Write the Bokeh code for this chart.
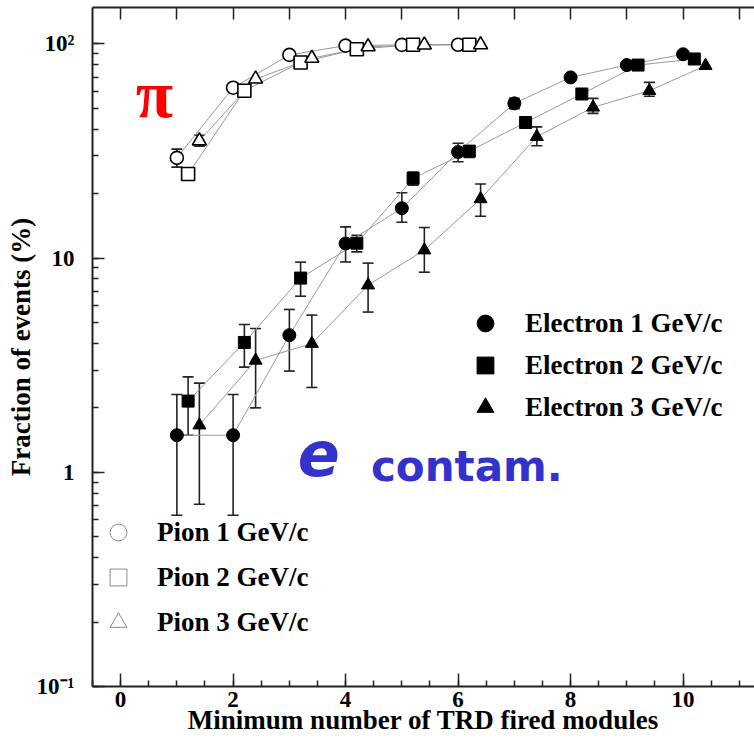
import numpy as np
from bokeh.plotting import figure
from bokeh.models import (ColumnDataSource, Whisker, TeeHead, LinearAxis, Legend,
                          LegendItem, Label, Range1d, SingleIntervalTicker)
from bokeh.embed import file_html
from bokeh.resources import INLINE

# ---------------- data ----------------
pion1_x = [1.0, 2.0, 3.0, 4.0, 5.0, 6.0]
pion1_y = [29.4, 62.5, 88.9, 98.2, 99.0, 99.2]
pion1_lo = [26.6, None, None, None, None, None]
pion1_hi = [32.3, None, None, None, None, None]

pion2_x = [1.2, 2.2, 3.2, 4.2, 5.2, 6.2]
pion2_y = [24.7, 60.5, 82.0, 94.5, 99.2, 99.2]

pion3_x = [1.4, 2.4, 3.4, 4.4, 5.4, 6.4]
pion3_y = [35.3, 68.6, 85.8, 97.1, 99.0, 99.2]
pion3_lo = [33.3, None, None, None, None, None]
pion3_hi = [37.5, None, None, None, None, None]

el1_x = [1.0, 2.0, 3.0, 4.0, 5.0, 6.0, 7.0, 8.0, 9.0, 10.0]
el1_y = [1.49, 1.49, 4.37, 11.7, 17.1, 31.3, 52.8, 69.8, 79.7, 89.5]
el1_lo = [0.63, 0.63, 2.97, 9.6, 14.7, 28.2, 49.9, None, None, None]
el1_hi = [2.31, 2.31, 5.76, 14.0, 20.2, 34.4, 55.7, None, None, None]

el2_x = [1.2, 2.2, 3.2, 4.2, 5.2, 6.2, 7.2, 8.2, 9.2, 10.2]
el2_y = [2.15, 4.04, 8.07, 11.75, 23.6, 31.6, 43.0, 58.4, 79.7, 85.1]
el2_lo = [1.49, 3.1, 6.64, 10.7, 21.9, 29.5, None, None, None, None]
el2_hi = [2.79, 4.9, 9.58, 12.8, 25.2, 33.5, None, None, None, None]

el3_x = [1.4, 2.4, 3.4, 4.4, 5.4, 6.4, 7.4, 8.4, 9.4, 10.4]
el3_y = [1.66, 3.33, 3.99, 7.48, 10.9, 18.9, 36.9, 50.6, 60.5, 79.2]
el3_lo = [0.71, 2.0, 2.49, 5.6, 8.6, 15.7, 33.5, 47.4, 57.0, None]
el3_hi = [2.61, 4.69, 5.42, 9.48, 13.9, 22.2, 41.0, 55.7, 66.2, None]

electron_labels = ["Electron 1 GeV/c", "Electron 2 GeV/c", "Electron 3 GeV/c"]
pion_labels = ["Pion 1 GeV/c", "Pion 2 GeV/c", "Pion 3 GeV/c"]
y_tick_labels = {0.1: "10\u207b\u00b9", 1: "1", 10: "10", 100: "10\u00b2"}

SERIF = "Liberation Serif"
LINE_GREY = "#9a9a9a"
INK = "#222222"

p = figure(width=754, height=744, x_range=Range1d(-0.5, 11.27),
           y_range=Range1d(0.1, 148), y_axis_type="log",
           output_backend="svg", toolbar_location=None,
           min_border_left=92, min_border_right=0, min_border_top=7,
           min_border_bottom=58, background_fill_color="white",
           border_fill_color="white")
p.outline_line_color = None
p.xgrid.visible = False
p.ygrid.visible = False

# ---- axes ----
xa = p.xaxis[0]
xa.ticker = SingleIntervalTicker(interval=2, num_minor_ticks=4)
xa.axis_label = "Minimum number of TRD fired modules"
xa.axis_label_text_font = SERIF
xa.axis_label_text_font_style = "bold"
xa.axis_label_text_font_size = "27px"
xa.axis_label_text_color = "black"
xa.axis_label_standoff = -5
xa.major_label_standoff = 5
xa.major_label_text_font = SERIF
xa.major_label_text_font_style = "bold"
xa.major_label_text_font_size = "23px"
xa.major_label_text_color = "black"
xa.major_tick_in = 13
xa.major_tick_out = 0
xa.minor_tick_in = 6
xa.minor_tick_out = 0
xa.axis_line_width = 2
xa.major_tick_line_width = 1.5
xa.minor_tick_line_width = 1.5
xa.axis_line_color = INK
xa.major_tick_line_color = INK
xa.minor_tick_line_color = INK

ya = p.yaxis[0]
ya.axis_label = "Fraction of events (%)"
ya.axis_label_text_font = SERIF
ya.axis_label_text_font_style = "bold"
ya.axis_label_text_font_size = "27px"
ya.axis_label_text_color = "black"
ya.axis_label_standoff = -2
ya.major_label_overrides = y_tick_labels
ya.major_label_text_font = SERIF
ya.major_label_text_font_style = "bold"
ya.major_label_text_font_size = "23px"
ya.major_label_text_color = "black"
ya.major_label_standoff = 18
ya.major_label_orientation = "horizontal"
ya.major_tick_in = 12
ya.major_tick_out = 0
ya.minor_tick_in = 6
ya.minor_tick_out = 0
ya.axis_line_width = 2
ya.major_tick_line_width = 1.5
ya.minor_tick_line_width = 1.5
ya.axis_line_color = INK
ya.major_tick_line_color = INK
ya.minor_tick_line_color = INK

top = LinearAxis(ticker=SingleIntervalTicker(interval=1, num_minor_ticks=0),
                 major_label_text_font_size="1px", major_label_text_color=None,
                 major_label_standoff=0,
                 major_tick_in=12, major_tick_out=0, axis_line_width=2,
                 major_tick_line_width=1.5, axis_line_color=INK,
                 major_tick_line_color=INK)
p.add_layout(top, "above")


def whiskers(xs, lo, hi):
    keep = [i for i in range(len(xs)) if lo[i] is not None]
    src = ColumnDataSource(dict(x=[xs[i] for i in keep],
                                lo=[lo[i] for i in keep],
                                hi=[hi[i] for i in keep]))
    w = Whisker(source=src, base="x", lower="lo", upper="hi",
                line_color=INK, line_width=1.6,
                upper_head=TeeHead(size=11, line_color=INK, line_width=1.6),
                lower_head=TeeHead(size=11, line_color=INK, line_width=1.6))
    p.add_layout(w)


# ---- pion series ----
for xs, ys in ((pion1_x, pion1_y), (pion2_x, pion2_y), (pion3_x, pion3_y)):
    p.line(xs, ys, line_color=LINE_GREY, line_width=1)
whiskers(pion1_x, pion1_lo, pion1_hi)
whiskers(pion3_x, pion3_lo, pion3_hi)

# grey thin versions (shown in the legend, hidden under the data markers)
r_p1 = p.scatter(pion1_x, pion1_y, marker="circle", size=12, fill_color=None,
                 line_color="#8a8a8a", line_width=1)
r_p2 = p.scatter(pion2_x, pion2_y, marker="square", size=12, fill_color=None,
                 line_color="#8a8a8a", line_width=1)
r_p3 = p.scatter(pion3_x, pion3_y, marker="triangle", size=13, fill_color=None,
                 line_color="#8a8a8a", line_width=1)

p.scatter(pion1_x, pion1_y, marker="circle", size=13, fill_color="white",
          line_color="black", line_width=1.6)
p.scatter(pion2_x, pion2_y, marker="square", size=13, fill_color="white",
          line_color="black", line_width=1.6)
p.scatter(pion3_x, pion3_y, marker="triangle", size=14, fill_color="white",
          line_color="black", line_width=1.6)

# ---- electron series ----
for xs, ys in ((el1_x, el1_y), (el2_x, el2_y), (el3_x, el3_y)):
    p.line(xs, ys, line_color=LINE_GREY, line_width=1)
whiskers(el1_x, el1_lo, el1_hi)
whiskers(el2_x, el2_lo, el2_hi)
whiskers(el3_x, el3_lo, el3_hi)
r_e1 = p.scatter(el1_x, el1_y, marker="circle", size=13, fill_color="black",
                 line_color="black")
r_e2 = p.scatter(el2_x, el2_y, marker="square", size=12, fill_color="black",
                 line_color="black")
r_e3 = p.scatter(el3_x, el3_y, marker="triangle", size=13, fill_color="black",
                 line_color="black")


def make_legend(items, loc, spacing, standoff):
    lg = Legend(items=items, location=loc, orientation="vertical",
                glyph_width=42, glyph_height=42, label_height=42,
                label_standoff=standoff, spacing=spacing, padding=0, margin=0,
                border_line_color=None, background_fill_alpha=0,
                label_text_font=SERIF, label_text_font_style="bold",
                label_text_font_size="27px", label_text_color="black")
    p.add_layout(lg)


make_legend([LegendItem(label=electron_labels[0], renderers=[r_e1]),
             LegendItem(label=electron_labels[1], renderers=[r_e2]),
             LegendItem(label=electron_labels[2], renderers=[r_e3])],
            (372, 258), 0, 19)
make_legend([LegendItem(label=pion_labels[0], renderers=[r_p1]),
             LegendItem(label=pion_labels[1], renderers=[r_p2]),
             LegendItem(label=pion_labels[2], renderers=[r_p3])],
            (5, 43), 3, 18)

# ---- annotations ----
p.add_layout(Label(x=0.6, y=58.4, text="π", text_font=SERIF,
                   text_font_style="bold", text_font_size="68px",
                   text_color="#ff0000", text_align="center",
                   text_baseline="middle"))
p.add_layout(Label(x=3.15, y=1.23, text="e", text_font="DejaVu Sans",
                   text_font_style="bold italic", text_font_size="62px",
                   text_color="#3333cc", text_align="left",
                   text_baseline="alphabetic"))
p.add_layout(Label(x=4.45, y=1.07, text="contam.", text_font="DejaVu Sans",
                   text_font_style="bold", text_font_size="42px",
                   text_color="#3333cc", text_align="left",
                   text_baseline="alphabetic"))

open("out.html", "w").write(file_html(p, INLINE))
